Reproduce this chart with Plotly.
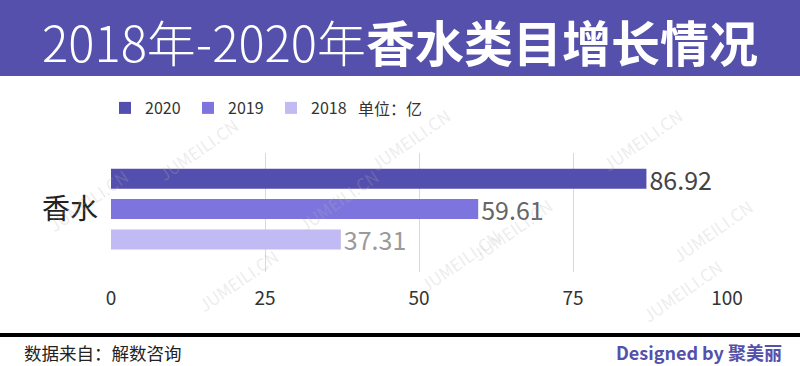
import plotly.graph_objects as go

categories = ["香水"]
years = ["2018", "2019", "2020"]
values_2018 = [37.31]
values_2019 = [59.61]
values_2020 = [86.92]
bar_colors = {"2018": "#c1baf3", "2019": "#7d75dd", "2020": "#534fae"}
text_colors = {"2018": "#9a9a9a", "2019": "#666666", "2020": "#444444"}
x_ticks = [0, 25, 50, 75, 100]

FONT = "Noto Sans CJK SC"
W, H = 800, 366
L, R, T, B = 111, 73, 153, 94
PW, PH = W - L - R, H - T - B


def px(xp):
    return (xp - L) / PW


def py(yp):
    return (H - B - yp) / PH


fig = go.Figure()
series = {"2018": values_2018, "2019": values_2019, "2020": values_2020}
for yr in years:
    vals = series[yr]
    fig.add_trace(go.Bar(
        y=categories, x=vals, name=yr, orientation="h",
        marker=dict(color=bar_colors[yr], line=dict(width=0)),
        text=[f"{v:.2f}" for v in vals], textposition="outside",
        constraintext="none",
        textfont=dict(size=25, color=text_colors[yr], family=FONT),
        cliponaxis=False,
    ))

shapes = [
    dict(type="rect", xref="paper", yref="paper", x0=px(0), x1=px(W), y0=py(76), y1=py(0),
         fillcolor="#5450ab", line=dict(width=0), layer="below"),
    dict(type="rect", xref="paper", yref="paper", x0=px(0), x1=px(W), y0=py(337), y1=py(333),
         fillcolor="#000000", line=dict(width=0)),
]

annotations = [
    dict(text="2018年-2020年<b>香水类目增长情况</b>", xref="paper", yref="paper",
         x=px(400), y=py(40), xanchor="center", yanchor="middle", showarrow=False,
         font=dict(size=49, color="white", family=FONT, weight=300)),
    dict(text="单位：亿", xref="paper", yref="paper", x=px(356), y=py(108),
         xanchor="left", yanchor="middle", showarrow=False,
         font=dict(size=16, color="#333333", family=FONT)),
    dict(text="数据来自：解数咨询", xref="paper", yref="paper", x=px(22), y=py(352),
         xanchor="left", yanchor="middle", showarrow=False,
         font=dict(size=17.5, color="#222222", family=FONT)),
    dict(text="<b>Designed by 聚美丽</b>", xref="paper", yref="paper", x=px(784), y=py(352),
         xanchor="right", yanchor="middle", showarrow=False,
         font=dict(size=18, color="#5450ab", family=FONT)),
]

# faint watermark
wm_positions = [(150, 110), (410, 100), (690, 100), (40, 240), (290, 200), (560, 190),
                (760, 230), (190, 320), (460, 300), (730, 330)]
for wx, wy in wm_positions:
    annotations.append(dict(text="JUMEILI.CN", xref="paper", yref="paper", x=px(wx), y=py(wy),
                            showarrow=False, textangle=-35,
                            font=dict(size=17, color="rgba(180,180,180,0.25)", family=FONT)))

fig.update_layout(
    width=W, height=H,
    margin=dict(l=L, r=R, t=T, b=B),
    paper_bgcolor="white", plot_bgcolor="white",
    barmode="group", bargap=0.235, bargroupgap=0.34,
    font=dict(family=FONT),
    showlegend=True,
    legend=dict(orientation="h", x=px(105), y=py(108), xanchor="left", yanchor="middle",
                traceorder="reversed", font=dict(size=16, color="#333333", family=FONT),
                entrywidth=38, bgcolor="rgba(0,0,0,0)"),
    xaxis=dict(range=[0, 100], tickvals=x_ticks, showgrid=True, gridcolor="#d9d9d9", gridwidth=1,
               zeroline=False, showline=False, ticks="", ticklabelstandoff=13,
               tickfont=dict(size=19, color="#333333", family=FONT)),
    yaxis=dict(range=[-0.529, 0.471], showgrid=False, zeroline=False, showline=False, ticks="",
               tickfont=dict(size=28, color="#222222", family=FONT), ticklabelstandoff=12),
    shapes=shapes, annotations=annotations,
)

fig.write_html("out.html", config={"displayModeBar": False},
               post_script="document.body.style.margin='0';document.body.style.overflow='hidden';")
